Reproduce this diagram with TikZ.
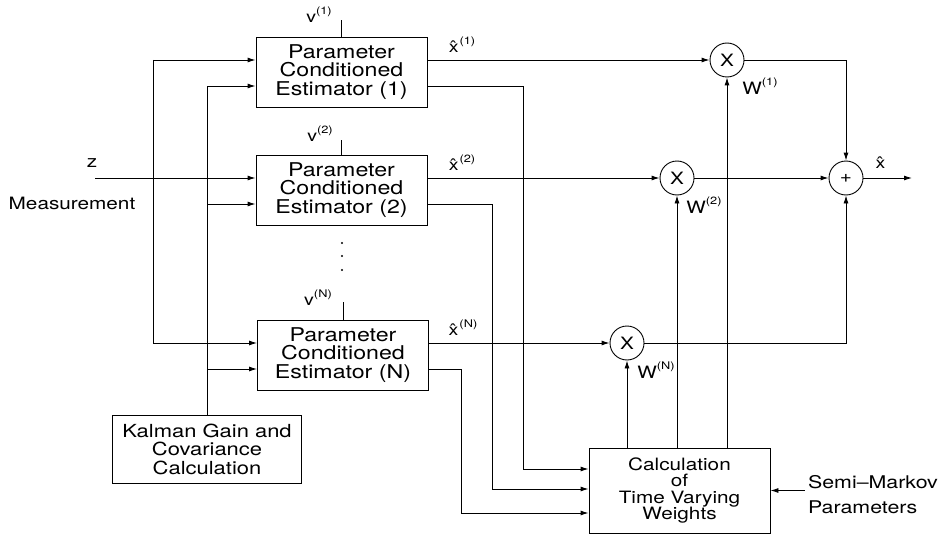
\documentclass[tikz,border=0pt]{standalone}
\usepackage{fontspec}
\setmainfont[FakeStretch=1.22]{TeX Gyre Heros}
\usetikzlibrary{arrows.meta}
\newcommand\myexp[1]{\raisebox{0.5em}{\fontsize{10.5}{10.5}\selectfont(#1)}}
\newcommand\xhat{x̂\kern1pt}
\begin{document}
\begin{tikzpicture}[x=1pt,y=-1pt,line width=0.9pt,
  arr/.style={-{Latex[length=8pt,width=5pt]}},
  estbox/.style={draw,minimum width=171pt,minimum height=70pt,inner sep=0pt,align=center,font=\fontsize{19}{18.5}\selectfont},
  kbox/.style={draw,minimum width=189pt,minimum height=68pt,inner sep=0pt,align=center,font=\fontsize{18}{18.5}\selectfont},
  cbox/.style={draw,minimum width=181pt,minimum height=85pt,inner sep=0pt,align=center,font=\fontsize{17}{16.5}\selectfont},
  op/.style={draw,circle,minimum size=34pt,inner sep=0pt,font=\fontsize{17}{17}\selectfont},
  lbl/.style={inner sep=0pt,font=\fontsize{17}{18.5}\selectfont},
  slbl/.style={inner sep=0pt,font=\fontsize{16}{16}\selectfont}]
\useasboundingbox (0,0) rectangle (943,535);
% blocks
\node[estbox] (e1) at (341.5,72) {Parameter\\Conditioned\\Estimator (1)};
\node[estbox] (e2) at (341.5,190) {Parameter\\Conditioned\\Estimator (2)};
\node[estbox] (eN) at (343,355) {Parameter\\Conditioned\\Estimator (N)};
\node[kbox] (k) at (207,449) {Kalman Gain and\\Covariance\\Calculation};
\node[cbox] (calc) at (679.5,490.5) {Calculation\\of\\Time Varying\\Weights};
\node[op] (m1) at (727,60) {X};
\node[op] (m2) at (677,178) {X};
\node[op] (mN) at (627,343) {X};
\node[op] (sum) at (846,178) {+};
% row coordinates
\coordinate (r1a) at (0,60);  \coordinate (r1b) at (0,86);
\coordinate (r2a) at (0,178); \coordinate (r2b) at (0,204);
\coordinate (rNa) at (0,343); \coordinate (rNb) at (0,369);
% measurement input
\coordinate (zin) at (95,178);
\node[lbl] (zl) at (92,163) {z};
\node[lbl] (meas) at (72,203) {Measurement};
\draw[arr] (zin) -- (e2.west |- r2a);
\coordinate (jA) at (153,60);
\coordinate (jB) at (153,343);
\draw (jA) -- (jB);
\draw[arr] (jA) -- (e1.west |- r1a);
\draw[arr] (jB) -- (eN.west |- rNa);
% Kalman gain distribution
\draw (k.north) -- (k.north |- r1b);
\draw[arr] (k.north |- r1b) -- (e1.west |- r1b);
\draw[arr] (k.north |- r2b) -- (e2.west |- r2b);
\draw[arr] (k.north |- rNb) -- (eN.west |- rNb);
% v inputs
\draw (e1.north) -- ++(0,-17) coordinate (v1);
\draw (e2.north) -- ++(0,-15) coordinate (v2);
\draw (eN.north) -- ++(0,-18) coordinate (vN);
\node[slbl] (v1l) at (319,15) {v\myexp{1}};
\node[slbl] (v2l) at (320,134) {v\myexp{2}};
\node[slbl] (vNl) at (318,298) {v\myexp{N}};
% dots
\foreach \yy in {243,256,270} \fill (342,\yy) circle (1.2pt);
% estimate outputs
\draw[arr] (e1.east |- r1a) -- (m1.west);
\draw[arr] (e2.east |- r2a) -- (m2.west);
\draw[arr] (eN.east |- rNa) -- (mN.west);
\node[slbl] (x1l) at (462,45) {\xhat\myexp{1}};
\node[slbl] (x2l) at (462,163) {\xhat\myexp{2}};
\node[slbl] (xNl) at (463,328) {\xhat\myexp{N}};
% residual outputs to weight calculation
\coordinate (c1) at (523,469);
\coordinate (c2) at (492,489);
\coordinate (cN) at (461,513);
\draw[arr] (e1.east |- r1b) -| (c1) -- (calc.west |- c1);
\draw[arr] (e2.east |- r2b) -| (c2) -- (calc.west |- c2);
\draw[arr] (eN.east |- rNb) -| (cN) -- (calc.west |- cN);
% weights
\draw[arr] (calc.north -| m1) -- (m1.south);
\draw[arr] (calc.north -| m2) -- (m2.south);
\draw[arr] (calc.north -| mN) -- (mN.south);
\node[lbl] (w1l) at (760,86) {W\myexp{1}};
\node[lbl] (w2l) at (704,205) {W\myexp{2}};
\node[lbl] (wNl) at (656,370) {W\myexp{N}};
% summation
\draw[arr] (m1.east) -| (sum.north);
\draw[arr] (m2.east) -- (sum.west);
\draw[arr] (mN.east) -| (sum.south);
\coordinate (out) at (912,178);
\draw[arr] (sum.east) -- (out);
\node[slbl] (xl) at (881,163) {\xhat};
% semi-Markov
\node[lbl,align=left,font=\fontsize{17.5}{25}\selectfont] (sm) at (873,495) {Semi–Markov\\Parameters};
\draw[arr] ([xshift=-3pt]sm.west |- calc.east) -- (calc.east);
\end{tikzpicture}
\end{document}
